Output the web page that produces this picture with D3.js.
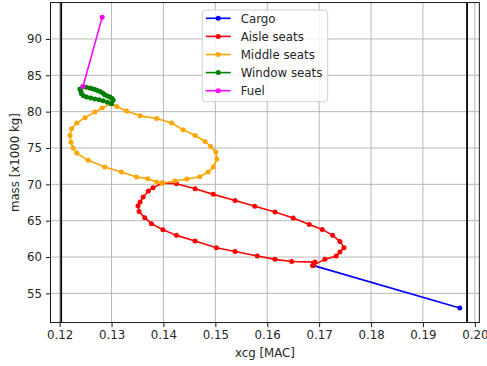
<!DOCTYPE html>
<html>
<head>
<meta charset="utf-8">
<script src="https://cdn.jsdelivr.net/npm/d3@7"></script>
<style>
  html, body { margin: 0; padding: 0; background: #fff; }
  svg { display: block; }
  text { font-family: "DejaVu Sans", sans-serif; fill: #262626; }
</style>
</head>
<body>
<svg id="chart" width="487" height="366"></svg>
<script>
// Loading sequence: [xcg (MAC), mass (x1000 kg)] per step
const cargo = [[0.1971, 52.98], [0.1688, 58.85]];

const aisleSeats = [
  [0.1688, 58.85], [0.1711, 59.68], [0.1733, 60.13], [0.1740, 60.68], [0.1748, 61.29],
  [0.1740, 62.15], [0.1726, 62.98], [0.1706, 63.80], [0.1681, 64.49], [0.1650, 65.36],
  [0.1615, 66.18], [0.1576, 67.00], [0.1538, 67.79], [0.1496, 68.62], [0.1461, 69.40],
  [0.1425, 70.09], [0.1398, 70.17],
  [0.1380, 69.54], [0.1371, 69.07], [0.1361, 68.25], [0.1355, 67.56], [0.1351, 67.05],
  [0.1353, 66.25], [0.1364, 65.41], [0.1377, 64.59], [0.1399, 63.76], [0.1425, 62.98],
  [0.1461, 62.19], [0.1502, 61.28], [0.1538, 60.75], [0.1581, 60.13], [0.1615, 59.68],
  [0.1647, 59.38], [0.1692, 59.30], [0.1688, 58.85]
];

const middleSeats = [
  [0.1398, 70.17], [0.1422, 70.45], [0.1445, 70.72], [0.1470, 71.05], [0.1486, 71.69],
  [0.1496, 72.37], [0.1503, 73.47], [0.1501, 74.44], [0.1491, 75.22], [0.1480, 75.90],
  [0.1461, 76.73], [0.1438, 77.50], [0.1416, 78.43], [0.1387, 79.05], [0.1355, 79.42],
  [0.1329, 80.10], [0.1310, 80.70], [0.1300, 81.10],
  [0.1282, 80.50], [0.1268, 79.94], [0.1249, 79.17], [0.1233, 78.43], [0.1223, 77.65],
  [0.1220, 76.73], [0.1222, 75.80], [0.1226, 75.00], [0.1233, 74.30], [0.1255, 73.30],
  [0.1287, 72.37], [0.1319, 71.69], [0.1348, 71.00], [0.1370, 70.78], [0.1387, 70.31],
  [0.1398, 70.17]
];

const windowSeats = [
  [0.1300, 81.10], [0.1303, 81.55], [0.1301, 81.80], [0.1297, 82.00], [0.1292, 82.15],
  [0.1287, 82.33], [0.1283, 82.55], [0.1278, 82.78], [0.1273, 82.92], [0.1268, 83.06],
  [0.1263, 83.15], [0.1258, 83.25], [0.1251, 83.35], [0.1245, 83.45],
  [0.1239, 83.10], [0.1241, 82.80], [0.1242, 82.45], [0.1246, 82.20], [0.1252, 82.00],
  [0.1260, 81.88], [0.1268, 81.75], [0.1276, 81.62], [0.1284, 81.50], [0.1292, 81.30],
  [0.1300, 81.10]
];

const fuel = [[0.1245, 83.45], [0.1282, 93.0]];

// Forward / aft limits
const limits = [0.1203, 0.1985];

const xTicks = [0.12, 0.13, 0.14, 0.15, 0.16, 0.17, 0.18, 0.19, 0.20];
const yTicks = [55, 60, 65, 70, 75, 80, 85, 90];

const seriesNames = ["Cargo", "Aisle seats", "Middle seats", "Window seats", "Fuel"];
const seriesColors = ["#0000ff", "#ff0000", "#ffa500", "#008000", "#ff00ff"];
const seriesData = [cargo, aisleSeats, middleSeats, windowSeats, fuel];

const svg = d3.select("#chart");
const plotLeft = 50.5, plotRight = 479.3, plotTop = 2.6, plotBottom = 322.6;

const x = d3.scaleLinear().domain([0.11824, 0.20086]).range([plotLeft, plotRight]);
const y = d3.scaleLinear().domain([50.98, 95.0]).range([plotBottom, plotTop]);

// grid
const grid = svg.append("g");
grid.selectAll("line.gx").data(xTicks).join("line")
  .attr("x1", d => x(d)).attr("x2", d => x(d))
  .attr("y1", plotTop).attr("y2", plotBottom)
  .attr("stroke", "#b0b0b0").attr("stroke-width", 0.9);
grid.selectAll("line.gy").data(yTicks).join("line")
  .attr("y1", d => y(d)).attr("y2", d => y(d))
  .attr("x1", plotLeft).attr("x2", plotRight)
  .attr("stroke", "#b0b0b0").attr("stroke-width", 0.9);

// limit lines
svg.append("g").selectAll("line").data(limits).join("line")
  .attr("x1", d => x(d)).attr("x2", d => x(d))
  .attr("y1", plotTop).attr("y2", plotBottom)
  .attr("stroke", "#000").attr("stroke-width", 1.8);

// series
const line = d3.line().x(d => x(d[0])).y(d => y(d[1]));
seriesData.forEach((data, i) => {
  const g = svg.append("g");
  g.append("path").datum(data).attr("d", line)
    .attr("fill", "none").attr("stroke", seriesColors[i])
    .attr("stroke-width", 1.6).attr("stroke-linejoin", "round");
  g.selectAll("circle").data(data).join("circle")
    .attr("cx", d => x(d[0])).attr("cy", d => y(d[1]))
    .attr("r", 2.5).attr("fill", seriesColors[i]);
});

// axes
const xAxis = d3.axisBottom(x).tickValues(xTicks).tickFormat(d3.format(".2f"))
  .tickSize(4.5).tickPadding(4);
const yAxis = d3.axisLeft(y).tickValues(yTicks).tickFormat(d3.format("d"))
  .tickSize(4.5).tickPadding(4);

const gx = svg.append("g").attr("transform", `translate(0,${plotBottom})`).call(xAxis);
const gy = svg.append("g").attr("transform", `translate(${plotLeft},0)`).call(yAxis);
[gx, gy].forEach(g => {
  g.select(".domain").remove();
  g.selectAll(".tick line").attr("stroke", "#000").attr("stroke-width", 0.9);
  g.selectAll(".tick text").attr("font-size", "11.8px")
    .attr("font-family", "DejaVu Sans").attr("fill", "#262626");
});

// frame
svg.append("rect").attr("x", plotLeft).attr("y", plotTop)
  .attr("width", plotRight - plotLeft).attr("height", plotBottom - plotTop)
  .attr("fill", "none").attr("stroke", "#000").attr("stroke-width", 0.9);

// axis labels
svg.append("text").attr("x", (plotLeft + plotRight) / 2).attr("y", 357)
  .attr("text-anchor", "middle").attr("font-size", "11.8px").text("xcg [MAC]");
svg.append("text")
  .attr("transform", `translate(18.5,${(plotTop + plotBottom) / 2}) rotate(-90)`)
  .attr("text-anchor", "middle").attr("font-size", "11.8px").text("mass [x1000 kg]");

// legend
const lg = svg.append("g");
lg.append("rect").attr("x", 202.3).attr("y", 10).attr("width", 125.4).attr("height", 91.7)
  .attr("rx", 3).attr("fill", "#fff").attr("fill-opacity", 0.8)
  .attr("stroke", "#cccccc").attr("stroke-width", 0.9);
seriesNames.forEach((name, i) => {
  const cy = 18.3 + i * 18.1;
  lg.append("line").attr("x1", 205.7).attr("x2", 230.7).attr("y1", cy).attr("y2", cy)
    .attr("stroke", seriesColors[i]).attr("stroke-width", 1.6);
  lg.append("circle").attr("cx", 218.2).attr("cy", cy).attr("r", 2.5).attr("fill", seriesColors[i]);
  lg.append("text").attr("x", 240.7).attr("y", cy).attr("dy", "0.36em")
    .attr("font-size", "11.8px").text(name);
});
</script>
</body>
</html>
